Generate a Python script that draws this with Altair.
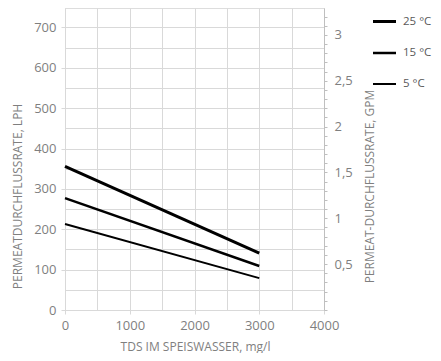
import altair as alt
import pandas as pd

# Data
tds = [0, 3000]
lph_25 = [356, 141]
lph_15 = [277, 109]
lph_5 = [213, 79]
series = ["25 °C", "15 °C", "5 °C"]
widths = [3, 2, 1]

LPH_PER_GPM = 227.1
Y_MAX = 748

rows = []
for name, vals in zip(series, [lph_25, lph_15, lph_5]):
    for t, v in zip(tds, vals):
        rows.append({"tds": t, "lph": v, "series": name})
df = pd.DataFrame(rows)

x_vals = [0, 500, 1000, 1500, 2000, 2500, 3000, 3500, 4000]
y_vals = [0, 50, 100, 150, 200, 250, 300, 350, 400, 450, 500, 550, 600, 650, 700]
gpm_vals = [0.0, 0.1, 0.2, 0.3, 0.4, 0.5, 0.6, 0.7, 0.8, 0.9, 1.0, 1.1, 1.2, 1.3, 1.4, 1.5,
            1.6, 1.7, 1.8, 1.9, 2.0, 2.1, 2.2, 2.3, 2.4, 2.5, 2.6, 2.7, 2.8, 2.9, 3.0, 3.1, 3.2]

FONT = "Open Sans"
GRID = "#d9d9d9"
LABEL = "#7f7f7f"
TITLE = "#7f7f7f"

x_axis = alt.Axis(
    values=x_vals,
    title="TDS IM SPEISWASSER, mg/l",
    titleX=130, titleY=36, titleAlign="center", titleBaseline="middle",
    titleFont=FONT, titleFontSize=12, titleFontWeight="normal", titleColor=TITLE,
    labelExpr="datum.value % 1000 === 0 ? datum.label : ''",
    labelFont=FONT, labelFontSize=13, labelColor=LABEL,
    labelFlush=False, labelOverlap=False, labelPadding=5,
    grid=True, gridColor=GRID, gridWidth=1,
    domain=True, domainColor=GRID,
    ticks=True, tickSize=4, tickColor=GRID,
    tickOpacity={"condition": {"test": "datum.value % 1000 !== 0", "value": 0}, "value": 1},
    format="d",
)
x_scale = alt.Scale(domain=[0, 4000], nice=False)

lines = alt.Chart(df).mark_line(color="black").encode(
    x=alt.X("tds:Q", scale=x_scale, axis=x_axis),
    y=alt.Y(
        "lph:Q",
        scale=alt.Scale(domain=[0, Y_MAX], nice=False),
        axis=alt.Axis(
            values=y_vals,
            title="PERMEATDURCHFLUSSRATE, LPH",
            titleAngle=270, titleX=-48, titleY=188, titleAlign="center", titleBaseline="middle",
            titleFont=FONT, titleFontSize=12, titleFontWeight="normal", titleColor=TITLE,
            labelExpr="datum.value % 100 === 0 ? datum.label : ''",
            labelFont=FONT, labelFontSize=13, labelColor=LABEL,
            labelOverlap=False, labelPadding=5,
            grid=True, gridColor=GRID, gridWidth=1,
            domain=True, domainColor=GRID,
            ticks=True, tickSize=4, tickColor=GRID,
            tickOpacity={"condition": {"test": "datum.value % 100 !== 0", "value": 0}, "value": 1},
            format="d",
        ),
    ),
    strokeWidth=alt.StrokeWidth(
        "series:N",
        scale=alt.Scale(domain=series, range=widths),
        sort=series,
        legend=alt.Legend(
            title=None, orient="none", legendX=306, legendY=0,
            symbolType="stroke", symbolSize=530, symbolStrokeColor="black",
            labelFont=FONT, labelFontSize=11.5, labelColor="#595959",
            rowPadding=12, labelOffset=5,
        ),
    ),
    detail="series:N",
)

right = alt.Chart(df).transform_calculate(
    gpm=f"datum.lph / {LPH_PER_GPM}"
).mark_line(opacity=0).encode(
    x=alt.X("tds:Q", scale=x_scale, axis=x_axis),
    y=alt.Y(
        "gpm:Q",
        scale=alt.Scale(domain=[0, Y_MAX / LPH_PER_GPM], nice=False),
        axis=alt.Axis(
            orient="right",
            values=gpm_vals,
            title="PERMEAT-DURCHFLUSSRATE, GPM",
            titleAngle=270, titleX=45, titleY=178, titleAlign="center", titleBaseline="middle",
            titleFont=FONT, titleFontSize=12, titleFontWeight="normal", titleColor=TITLE,
            labelExpr="(datum.value > 0.05 && abs(datum.value * 2 - round(datum.value * 2)) < 0.01) ? replace(format(datum.value, '~g'), '.', ',') : ''",
            labelFont=FONT, labelFontSize=13, labelColor=LABEL,
            labelOverlap=False, labelPadding=7,
            grid=False,
            domain=True, domainColor="#bfbfbf", domainWidth=1,
            ticks=True, tickSize=3, tickColor="#bfbfbf",
        ),
    ),
    detail="series:N",
)

chart = alt.layer(lines, right).resolve_scale(y="independent").properties(
    width=259,
    height=302,
    autosize=alt.AutoSizeParams(type="none"),
    padding={"left": 57, "top": 0, "right": 109, "bottom": 43},
).configure_view(stroke=None).configure(background="white")

chart.save("out.html", embed_options={"renderer": "svg", "actions": False})
